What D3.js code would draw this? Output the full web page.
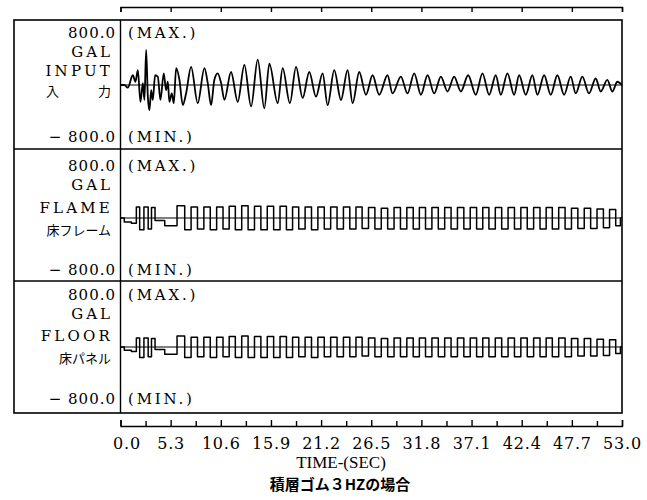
<!DOCTYPE html>
<html><head><meta charset="utf-8">
<script src="https://cdn.jsdelivr.net/npm/d3@7"></script>
<style>body{margin:0;background:#fff}svg{display:block}</style></head>
<body><svg id="c" width="647" height="500"></svg>
<script>
// ---------------- data ----------------
const timeTicks = [0, 5.3, 10.6, 15.9, 21.2, 26.5, 31.8, 37.1, 42.4, 47.7, 53.0];
const minorTicks = [2.65, 7.95, 13.25, 18.55, 23.85, 29.15, 34.45, 39.75, 45.05, 50.35];
const tickLabels = ["0.0","5.3","10.6","15.9","21.2","26.5","31.8","37.1","42.4","47.7","53.0"];
const limitMax = 800.0, limitMin = -800.0;
const unitLabel = "GAL";
const panelNames = ["INPUT", "FLAME", "FLOOR"];
const panelNamesJa = ["入\u3000\u3000\u3000力", "床フレーム", "床パネル"];
const xTitle = "TIME-(SEC)";
const chartTitle = "積層ゴム３HZの場合";

// INPUT (gal) : [time s, value]
const inputSeries = [[0,0],[0.42,0],[0.77,-40],[1.30,150],[1.58,50],[1.83,230],[2.11,-260],[2.36,30],[2.53,-230],[2.71,540],[2.89,-180],[3.06,-390],[3.24,-80],[3.41,-230],[3.66,150],[3.94,130],[4.22,-230],[4.57,180],[4.82,-80],[5.00,50],[5.17,-260],[5.42,-130],[5.63,-280],[5.88,260],[6.23,80],[6.58,-310],[6.93,-130],[7.46,280],[8.16,-280],[8.87,260],[9.22,30],[9.57,-310],[9.92,80],[10.27,180],[10.63,30],[10.98,-230],[11.68,200],[12.39,-260],[13.09,310],[13.80,-330],[14.50,390],[15.20,-360],[15.73,330],[16.61,-280],[17.14,260],[17.90,-280],[18.55,280],[19.25,-200],[19.95,200],[20.66,-180],[21.36,180],[21.89,-310],[22.59,230],[23.30,-230],[24.00,230],[24.53,-280],[25.23,200],[25.94,-150],[26.64,150],[27.34,-150],[28.22,150],[28.75,-130],[29.63,130],[30.33,-130],[31.04,180],[31.75,-150],[32.45,150],[33.15,-130],[33.86,130],[34.56,-100],[35.26,130],[35.97,-100],[36.74,150],[37.55,-150],[38.25,180],[38.96,-150],[39.66,150],[40.19,-150],[40.89,180],[41.60,-150],[42.13,150],[42.83,-150],[43.53,150],[44.06,-150],[44.77,150],[45.47,-150],[46.17,150],[46.88,-150],[47.58,130],[48.11,-130],[48.81,130],[49.51,-130],[50.22,100],[50.75,-100],[51.45,80],[51.98,-100],[52.51,50],[53.0,0]];

// FLAME (gal): extremes, drawn as square-ish steps
const flameSeries = [[0,0],[0.8,-60],[1.5,-80],[1.85,170],[2.2,-180],[2.75,170],[3.1,-170],[3.45,160],[3.85,-40],[5.5,-120],[6.45,190],[7.12,-180],[7.8,170],[8.47,-170],[9.15,170],[9.82,-180],[10.5,170],[11.17,-170],[11.8,180],[12.47,-180],[13.15,190],[13.82,-180],[14.5,180],[15.17,-180],[15.85,180],[16.52,-180],[17.2,180],[17.87,-180],[18.5,170],[19.17,-170],[19.85,170],[20.52,-180],[21.2,170],[21.87,-170],[22.55,170],[23.22,-170],[23.9,170],[24.57,-170],[25.2,170],[25.87,-160],[26.55,160],[27.22,-170],[27.9,150],[28.57,-170],[29.25,160],[29.92,-170],[30.6,160],[31.27,-170],[31.9,160],[32.57,-170],[33.25,160],[33.92,-170],[34.6,160],[35.27,-170],[35.95,160],[36.62,-170],[37.3,160],[37.97,-170],[38.6,160],[39.27,-170],[39.95,160],[40.62,-170],[41.3,160],[41.97,-170],[42.65,160],[43.32,-170],[44.0,160],[44.67,-170],[45.3,160],[45.97,-170],[46.65,160],[47.32,-170],[48.0,150],[48.67,-160],[49.35,150],[50.02,-160],[50.7,140],[51.37,-150],[52.0,130],[52.67,-120],[53.0,0]];

// FLOOR (gal)
const floorSeries = [[0,0],[0.8,-50],[1.5,-70],[1.85,140],[2.2,-160],[2.75,140],[3.1,-150],[3.45,130],[3.85,-40],[5.5,-110],[6.45,170],[7.12,-160],[7.8,150],[8.47,-150],[9.15,150],[9.82,-160],[10.5,150],[11.17,-150],[11.8,160],[12.47,-160],[13.15,170],[13.82,-160],[14.5,160],[15.17,-160],[15.85,160],[16.52,-160],[17.2,160],[17.87,-160],[18.5,150],[19.17,-150],[19.85,150],[20.52,-160],[21.2,150],[21.87,-150],[22.55,150],[23.22,-150],[23.9,150],[24.57,-150],[25.2,150],[25.87,-140],[26.55,140],[27.22,-150],[27.9,130],[28.57,-150],[29.25,140],[29.92,-150],[30.6,140],[31.27,-150],[31.9,140],[32.57,-150],[33.25,140],[33.92,-150],[34.6,140],[35.27,-150],[35.95,140],[36.62,-150],[37.3,140],[37.97,-150],[38.6,140],[39.27,-150],[39.95,140],[40.62,-150],[41.3,140],[41.97,-150],[42.65,140],[43.32,-150],[44.0,140],[44.67,-150],[45.3,140],[45.97,-150],[46.65,140],[47.32,-150],[48.0,130],[48.67,-140],[49.35,130],[50.02,-140],[50.7,120],[51.37,-130],[52.0,110],[52.67,-100],[53.0,0]];

// ---------------- drawing ----------------
const svg = d3.select("#c");
const serif = "'DejaVu Serif', serif";
const times = "'Liberation Serif', 'Times New Roman', serif";
const cjk = "'Noto Sans CJK JP', sans-serif";

const boxL = 14, boxR = 622, boxT = 20, boxB = 413, axisX = 120.5;
const x = d3.scaleLinear().domain([0, 53]).range([axisX, boxR]);

const panels = [
  {top: 20, bottom: 149, base: 85, data: inputSeries, curve: d3.curveMonotoneX, sw: 1.8, gal: 52, name: 70.5, ja: 91},
  {top: 149, bottom: 281, base: 218, data: flameSeries, curve: d3.curveStep, sw: 1.5, gal: 185, name: 208, ja: 230},
  {top: 281, bottom: 413, base: 347, data: floorSeries, curve: d3.curveStep, sw: 1.5, gal: 314, name: 336, ja: 358}
];

// outer box + dividers
svg.append("rect").attr("x", boxL).attr("y", boxT).attr("width", boxR - boxL).attr("height", boxB - boxT)
  .attr("fill", "none").attr("stroke", "#000").attr("stroke-width", 1.6);
panels.slice(1).forEach(p => {
  svg.append("line").attr("x1", boxL).attr("x2", boxR).attr("y1", p.top).attr("y2", p.top)
    .attr("stroke", "#000").attr("stroke-width", 1.6);
});
svg.append("line").attr("x1", axisX).attr("x2", axisX).attr("y1", boxT).attr("y2", boxB)
  .attr("stroke", "#000").attr("stroke-width", 1.4);

panels.forEach((p, i) => {
  const y = d3.scaleLinear().domain([limitMin, limitMax]).range([p.base + 52, p.base - 52]);
  svg.append("line").attr("x1", axisX).attr("x2", boxR).attr("y1", y(0)).attr("y2", y(0))
    .attr("stroke", "#000").attr("stroke-width", 1.1);
  const line = d3.line().x(d => x(d[0])).y(d => y(d[1])).curve(p.curve);
  svg.append("path").datum(p.data).attr("d", line).attr("fill", "none")
    .attr("stroke", "#000").attr("stroke-width", p.sw).attr("stroke-linejoin", "round");

  const g = svg.append("g").attr("fill", "#000");
  g.append("text").attr("x", 116).attr("y", y(limitMax)).attr("dy", "0.35em").attr("text-anchor", "end")
    .attr("font-family", serif).attr("font-size", 15).attr("letter-spacing", 1).text(limitMax.toFixed(1));
  g.append("text").attr("x", 116).attr("y", y(limitMin)).attr("dy", "0.35em").attr("text-anchor", "end")
    .attr("font-family", serif).attr("font-size", 15).attr("letter-spacing", 1).text("\u2212 " + Math.abs(limitMin).toFixed(1));
  g.append("text").attr("x", 128).attr("y", y(limitMax)).attr("dy", "0.35em")
    .attr("font-family", serif).attr("font-size", 15).attr("letter-spacing", 2.8).text("(MAX.)");
  g.append("text").attr("x", 128).attr("y", y(limitMin)).attr("dy", "0.35em")
    .attr("font-family", serif).attr("font-size", 15).attr("letter-spacing", 2.8).text("(MIN.)");
  g.append("text").attr("x", 113).attr("y", p.gal).attr("dy", "0.35em").attr("text-anchor", "end")
    .attr("font-family", serif).attr("font-size", 15).attr("letter-spacing", 3).text(unitLabel);
  g.append("text").attr("x", 113).attr("y", p.name).attr("dy", "0.35em").attr("text-anchor", "end")
    .attr("font-family", serif).attr("font-size", 15).attr("letter-spacing", 3.2).text(panelNames[i]);
  g.append("text").attr("x", 111).attr("y", p.ja).attr("dy", "0.35em").attr("text-anchor", "end")
    .attr("font-family", cjk).attr("font-size", 13).text(panelNamesJa[i]);
});

// top axis (ticks down, no labels)
const topAxis = d3.axisBottom(x).tickValues(timeTicks).tickSize(5).tickSizeOuter(5).tickFormat("");
const gt = svg.append("g").attr("transform", "translate(0,7)").call(topAxis);
gt.selectAll("path,line").attr("stroke", "#000").attr("stroke-width", 1.4);

// bottom axis (ticks up, labels below)
const botAxis = d3.axisBottom(x).tickValues(timeTicks).tickSize(-6).tickSizeOuter(-6).tickPadding(12)
  .tickFormat((d, i) => tickLabels[i]);
const gb = svg.append("g").attr("transform", "translate(0,426)").call(botAxis);
gb.selectAll("path,line").attr("stroke", "#000").attr("stroke-width", 1.4);
gb.selectAll("text").attr("font-family", serif).attr("font-size", 16).attr("fill", "#000").attr("letter-spacing", 0.8);
gb.selectAll(".tick text").filter((d, i) => i === 0).attr("dx", 6);
const minorAxis = d3.axisBottom(x).tickValues(minorTicks).tickSize(-5).tickSizeOuter(0).tickFormat("");
const gm = svg.append("g").attr("transform", "translate(0,426)").call(minorAxis);
gm.select("path").remove();
gm.selectAll("line").attr("stroke", "#000").attr("stroke-width", 1.4);

svg.append("text").attr("x", 341).attr("y", 462).attr("dy", "0.35em").attr("text-anchor", "middle")
  .attr("font-family", times).attr("font-size", 17).text(xTitle);
svg.append("text").attr("x", 340).attr("y", 485).attr("dy", "0.35em").attr("text-anchor", "middle")
  .attr("font-family", cjk).attr("font-size", 15).attr("font-weight", "bold").text(chartTitle);
</script></body></html>
